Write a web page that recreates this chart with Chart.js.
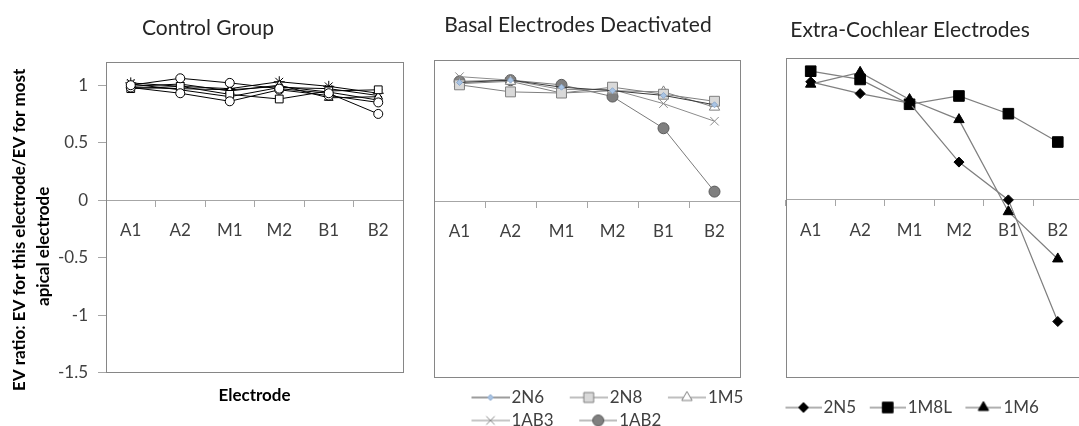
<!DOCTYPE html>
<html>
<head>
<meta charset="utf-8">
<script src="https://cdn.jsdelivr.net/npm/chart.js@4.4.0/dist/chart.umd.min.js"></script>
<style>
  html, body { margin: 0; padding: 0; background: #fff; overflow: hidden; }
  body { position: relative; width: 1079px; height: 426px; }
  canvas { position: absolute; top: 0; }
</style>
</head>
<body>
<canvas id="c1" width="416" height="426" style="left:0"></canvas>
<canvas id="c2" width="340" height="433" style="left:408px"></canvas>
<canvas id="c3" width="362" height="426" style="left:729px"></canvas>
<script>
// electrode positions (x categories)
const electrodes = ['A1', 'A2', 'M1', 'M2', 'B1', 'B2'];

// Control group - individual subjects (not named in the figure)
const ctrlA = [1.00, 1.06, 1.02, 0.97, 0.93, 0.75];
const ctrlB = [0.98, 0.93, 0.86, 0.96, 0.91, 0.85];
const ctrlC = [0.97, 0.99, 0.92, 0.88, 0.95, 0.96];
const ctrlD = [0.99, 1.01, 0.95, 1.00, 0.89, 0.90];
const ctrlE = [1.02, 0.99, 0.97, 1.03, 0.99, 0.93];
const ctrlF = [0.98, 0.97, 0.96, 0.99, 0.94, 0.87];
const ctrlG = [1.01, 0.96, 0.90, 0.98, 0.97, 0.91];

// Basal electrodes deactivated
const basalNames = ['2N6', '2N8', '1M5', '1AB3', '1AB2'];
const b2N6  = [1.01, 1.03, 0.97, 0.94, 0.90, 0.82];
const b2N8  = [0.99, 0.93, 0.92, 0.97, 0.91, 0.85];
const b1M5  = [1.00, 1.02, 0.92, 0.94, 0.93, 0.80];
const b1AB3 = [1.06, 1.03, 0.95, 0.95, 0.83, 0.68];
const b1AB2 = [1.02, 1.03, 0.99, 0.89, 0.62, 0.08];

// Extra-cochlear electrodes
const extraNames = ['2N5', '1M8L', '1M6'];
const e2N5  = [1.00, 0.90, 0.82, 0.32, 0.00, -1.03];
const e1M8L = [1.09, 1.02, 0.81, 0.88, 0.73, 0.49];
const e1M6  = [0.98, 1.08, 0.85, 0.68, -0.10, -0.50];

Chart.defaults.font.family = 'Lato, "Open Sans", sans-serif';
Chart.defaults.animation = false;

const AXIS_GREY = '#a6a6a6';
const FRAME_GREY = '#868686';
const TICK_TEXT = '#404040';
const LEG_FONT = 17;

// grey frame around each plot area
const frame = {
  id: 'frame',
  beforeDatasetsDraw(chart) {
    const { ctx, chartArea: a } = chart;
    ctx.save();
    ctx.strokeStyle = FRAME_GREY;
    ctx.lineWidth = 1;
    ctx.strokeRect(Math.round(a.left) + 0.5, Math.round(a.top) + 0.5,
                   Math.round(a.right - a.left), Math.round(a.bottom - a.top));
    ctx.restore();
  }
};

// nudge the legend box (Excel places it under the plot, not at the canvas edge)
function moveLegend(dx, dy) {
  return {
    id: 'moveLegend',
    afterLayout(chart) {
      const l = chart.legend;
      l.left += dx; l.right += dx; l.top += dy; l.bottom += dy;
    }
  };
}

// line + marker sample like Excel, used as the legend point style
function legendSample(ds, boxW, lineLen) {
  const end = boxW + LEG_FONT / 2 - 2, start = end - lineLen, c = boxW / 2;
  const half = Math.max(c - start, end - c);
  const cv = document.createElement('canvas');
  cv.width = Math.round(half * 2);
  cv.height = 18;
  const g = cv.getContext('2d');
  const x0 = start - (c - half);
  g.strokeStyle = ds.borderColor;
  g.lineWidth = ds.borderWidth;
  g.beginPath(); g.moveTo(x0, 9); g.lineTo(x0 + lineLen, 9); g.stroke();
  g.fillStyle = ds.pointBackgroundColor;
  g.strokeStyle = ds.pointBorderColor;
  g.lineWidth = ds.pointBorderWidth;
  Chart.helpers.drawPoint(g, { pointStyle: ds.pointStyle, radius: ds.pointRadius, rotation: 0, borderWidth: ds.pointBorderWidth }, x0 + lineLen / 2, 9);
  return cv;
}

function series(label, data, line, style, radius, fill, border, bw) {
  return {
    label: label, data: data, xAxisID: 'x', yAxisID: 'y',
    borderColor: line, borderWidth: bw || 1, tension: 0,
    pointStyle: style, pointRadius: radius, pointHoverRadius: radius,
    pointBackgroundColor: fill, pointBorderColor: border, pointBorderWidth: 1
  };
}

function catAxis() {
  return {
    type: 'category', position: { y: 0 }, offset: true,
    grid: { display: true, offset: true, drawOnChartArea: false, tickLength: 6, color: AXIS_GREY },
    border: { display: true, color: AXIS_GREY },
    ticks: { color: TICK_TEXT, font: { size: 17 }, padding: 14, maxRotation: 0 }
  };
}

function hiddenY(width) {
  return {
    min: -1.5, max: 1.2,
    afterFit: s => { s.width = width; },
    ticks: { display: false, stepSize: 0.5, includeBounds: false },
    grid: { display: false }, border: { display: false }
  };
}

function titleOpts(text, top, bottom) {
  return { display: true, text: text, color: '#262626',
           font: { size: 21, weight: 'normal' }, padding: { top: top, bottom: bottom } };
}

function legendOpts(boxW, lineLen) {
  return {
    display: true, position: 'bottom', align: 'start',
    labels: {
      usePointStyle: true, pointStyleWidth: boxW, padding: 6,
      color: TICK_TEXT, font: { size: LEG_FONT },
      generateLabels: chart => chart.data.datasets.map((ds, i) => ({
        text: ds.label, datasetIndex: i, hidden: false, lineWidth: 0,
        fontColor: TICK_TEXT, pointStyle: legendSample(ds, boxW, lineLen)
      }))
    }
  };
}

// ---- Control Group ----
new Chart(document.getElementById('c1'), {
  type: 'line',
  data: {
    labels: electrodes,
    datasets: [
      series('c1', ctrlA, '#000', 'circle', 4.5, '#fff', '#000'),
      series('c2', ctrlB, '#000', 'circle', 4.5, '#fff', '#000'),
      series('c3', ctrlC, '#000', 'rect', 5.5, '#fff', '#000'),
      series('c4', ctrlD, '#000', 'triangle', 5, '#fff', '#000'),
      series('c5', ctrlE, '#000', 'star', 5.5, '#000', '#000'),
      series('c6', ctrlF, '#000', 'rectRot', 4, '#000', '#000'),
      series('c7', ctrlG, '#000', 'crossRot', 5, '#000', '#000')
    ]
  },
  options: {
    responsive: false,
    layout: { padding: { left: 0, right: 0, top: 0, bottom: 16 } },
    plugins: {
      title: titleOpts('Control Group', 16, 21),
      legend: { display: false },
      tooltip: { enabled: false }
    },
    scales: {
      x: catAxis(),
      xt: {
        type: 'category', position: 'bottom',
        grid: { display: false }, border: { display: false }, ticks: { display: false },
        title: { display: true, text: 'Electrode', color: '#000',
                 font: { size: 17, weight: 'bold' }, padding: { top: 5, bottom: 4 } }
      },
      y: {
        min: -1.5, max: 1.2,
        afterFit: s => { s.width = 106; },
        ticks: { stepSize: 0.5, includeBounds: false, color: TICK_TEXT, font: { size: 17 }, padding: 10,
                 callback: v => String(v) },
        grid: { drawOnChartArea: false, tickLength: 8, color: AXIS_GREY },
        border: { color: FRAME_GREY },
        // trailing spaces push each line down the axis, as in the original layout
        title: { display: true, color: '#000', font: { size: 17, weight: 'bold', lineHeight: 1.41 },
                 text: ['EV ratio: EV for this electrode/EV for most      ', 'apical electrode              '],
                 padding: { top: 8, bottom: 0 } }
      },
      yr: Object.assign(hiddenY(13), { position: 'right' })
    }
  },
  plugins: [frame]
});

// ---- Basal Electrodes Deactivated ----
new Chart(document.getElementById('c2'), {
  type: 'line',
  data: {
    labels: electrodes,
    datasets: [
      series(basalNames[0], b2N6, '#3a3a3a', 'rectRot', 3, '#a9c4e4', '#8faacc'),
      series(basalNames[1], b2N8, '#7f7f7f', 'rect', 7, '#d9d9d9', '#7f7f7f'),
      series(basalNames[2], b1M5, '#7f7f7f', 'triangle', 6, '#ffffff', '#7f7f7f'),
      series(basalNames[3], b1AB3, '#8c8c8c', 'crossRot', 6, '#8c8c8c', '#8c8c8c'),
      series(basalNames[4], b1AB2, '#7a7a7a', 'circle', 5.5, '#808080', '#5a5a5a')
    ]
  },
  options: {
    responsive: false,
    layout: { padding: 0 },
    plugins: {
      title: titleOpts('Basal Electrodes Deactivated', 13, 22),
      legend: legendOpts(51, 38),
      tooltip: { enabled: false }
    },
    scales: { x: catAxis(), y: hiddenY(26) }
  },
  plugins: [frame, moveLegend(38, 6)]
});

// ---- Extra-Cochlear Electrodes ----
new Chart(document.getElementById('c3'), {
  type: 'line',
  data: {
    labels: electrodes,
    datasets: [
      series(extraNames[0], e2N5, '#808080', 'rectRot', 5, '#000', '#000', 1.25),
      series(extraNames[1], e1M8L, '#808080', 'rect', 7.5, '#000', '#000', 1.25),
      series(extraNames[2], e1M6, '#808080', 'triangle', 6, '#000', '#000', 1.25)
    ]
  },
  options: {
    responsive: false,
    layout: { padding: { left: 0, right: 0, top: 0, bottom: 16 } },
    plugins: {
      title: titleOpts('Extra-Cochlear Electrodes', 18, 15),
      legend: legendOpts(37, 36),
      tooltip: { enabled: false }
    },
    scales: { x: catAxis(), y: hiddenY(57) }
  },
  plugins: [frame, moveLegend(43, 16)]
});
</script>
</body>
</html>
